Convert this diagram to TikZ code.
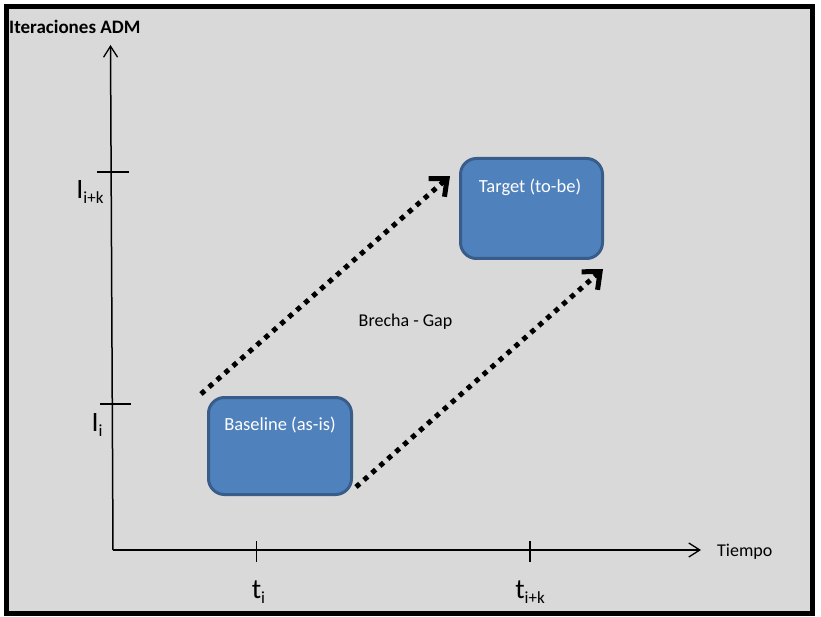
\documentclass[tikz,border=0pt]{standalone}
\usepackage{fontspec}
\setmainfont{Carlito}
\usetikzlibrary{arrows.meta}
\definecolor{bg}{HTML}{D9D9D9}
\definecolor{boxfill}{HTML}{4F81BD}
\definecolor{boxdraw}{HTML}{385D8A}
\tikzset{
  px/.style={x=1pt,y=-1pt},
  axisline/.style={line width=1.5pt,-{Straight Barb[length=11pt,width=14pt,line width=1.3pt]}},
  tickline/.style={line width=1.6pt},
  phasebox/.style={draw=boxdraw,fill=boxfill,line width=3pt,rounded corners=16pt,inner sep=0pt},
  boxtext/.style={text=white,font=\fontsize{18.5}{22}\selectfont},
  gaparrow/.style={line width=5pt,dash pattern=on 5pt off 5.6pt,
    -{Straight Barb[length=14pt,width=24pt,line width=5pt]}},
  axlabel/.style={font=\fontsize{28}{32}\selectfont,inner sep=0pt},
  plain/.style={font=\fontsize{18}{22}\selectfont,inner sep=0pt},
}
\newcommand{\subx}[1]{{\fontsize{17}{20}\selectfont\raisebox{-5pt}{#1}}}
\begin{document}
\begin{tikzpicture}[px]
\useasboundingbox (0,0) rectangle (821,617);
\draw[line width=4.5pt,fill=bg] (6.5,6.5) rectangle (812.5,613.5);

% axes
\coordinate (origin) at (113,550);
\coordinate (ytop) at (110.5,45);
\coordinate (xend) at (701,550);
\draw[axisline] (origin) -- (ytop);
\draw[axisline] (origin) -- (xend);

% ticks
\coordinate (yt1a) at (97,172); \coordinate (yt1b) at (129,172);
\coordinate (yt2a) at (100,404); \coordinate (yt2b) at (131,404);
\coordinate (xt1a) at (256.5,541); \coordinate (xt1b) at (256.5,562);
\coordinate (xt2a) at (530,541); \coordinate (xt2b) at (530,562);
\draw[tickline] (yt1a) -- (yt1b);
\draw[tickline] (yt2a) -- (yt2b);
\draw[tickline] (xt1a) -- (xt1b);
\draw[tickline] (xt2a) -- (xt2b);

% labels
\node[plain,font=\bfseries\fontsize{19}{22}\selectfont,anchor=west] (ylab) at (9,27) {Iteraciones ADM};
\node[plain,anchor=west] (xlab) at (717,552) {Tiempo};
\node[axlabel,anchor=base] (lik) at (90,199) {I\subx{i+k}};
\node[axlabel,anchor=base] (li) at (97,431) {I\subx{i}};
\node[axlabel,anchor=base] (ti) at (258.5,598) {t\subx{i}};
\node[axlabel,anchor=base] (tik) at (530,598) {t\subx{i+k}};
\node[plain] (gap) at (405.5,322) {Brecha - Gap};

% boxes
\node[phasebox,minimum width=143pt,minimum height=97pt] (base) at (280,446) {};
\node[phasebox,minimum width=142pt,minimum height=100pt] (target) at (531.5,208.5) {};
\node[boxtext] (basetext) at (280,425) {Baseline (as-is)};
\node[boxtext] (targettext) at (530,187) {Target (to-be)};

% gap arrows
\coordinate (s1) at (201,394);
\coordinate (e1) at (450,176);
\coordinate (s2) at (356,487);
\coordinate (e2) at (603,269);
\draw[gaparrow] (s1) -- (e1);
\draw[gaparrow] (s2) -- (e2);
\end{tikzpicture}
\end{document}
